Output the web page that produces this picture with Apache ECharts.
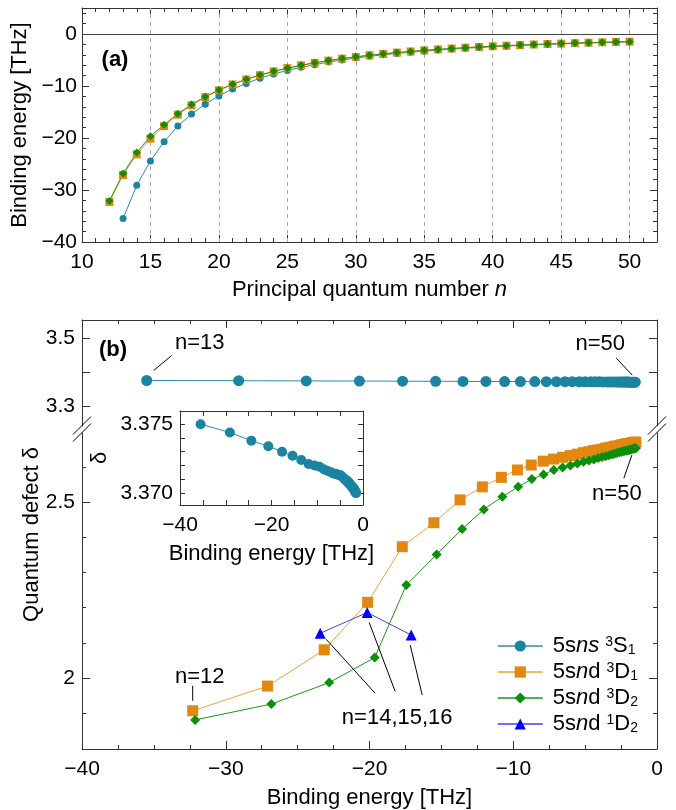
<!DOCTYPE html>
<html><head><meta charset="utf-8">
<script src="https://cdn.jsdelivr.net/npm/echarts@6/dist/echarts.min.js"></script>
<style>html,body{margin:0;padding:0;background:#fff}#c{width:676px;height:810px}</style>
</head><body><div id="c"></div>
<script>
// ================= DATA =================
const N_S  = '5sns \u00b3S\u2081';
const N_D1 = '5snd \u00b3D\u2081';
const N_D2 = '5snd \u00b3D\u2082';
const N_T  = '5snd \u00b9D\u2082';

// principal quantum numbers
const nS = [13,14,15,16,17,18,19,20,21,22,23,24,25,26,27,28,29,30,31,32,33,34,35,36,37,38,39,40,41,42,43,44,45,46,47,48,49,50];
const nD = [12,13,14,15,16,17,18,19,20,21,22,23,24,25,26,27,28,29,30,31,32,33,34,35,36,37,38,39,40,41,42,43,44,45,46,47,48,49,50];
const nT = [14,15,16];

// binding energies [THz]
const eS  = [-35.5,-29.1,-24.4,-20.7,-17.7,-15.4,-13.5,-11.9,-10.6,-9.5,-8.5,-7.7,-7.0,-6.4,-5.9,-5.4,-5.0,-4.6,-4.3,-4.0,-3.75,-3.5,-3.3,-3.1,-2.9,-2.74,-2.59,-2.45,-2.32,-2.20,-2.09,-1.99,-1.90,-1.81,-1.73,-1.65,-1.58,-1.51];
const eD1 = [-32.3,-27.1,-23.15,-20.13,-17.72,-15.52,-13.70,-12.15,-10.83,-9.71,-8.75,-7.92,-7.20,-6.57,-6.03,-5.54,-5.12,-4.74,-4.40,-4.09,-3.82,-3.57,-3.35,-3.14,-2.96,-2.79,-2.63,-2.49,-2.36,-2.24,-2.13,-2.02,-1.93,-1.84,-1.75,-1.67,-1.60,-1.53,-1.47];
const eD2 = [-32.13,-26.83,-22.80,-19.64,-17.44,-15.33,-13.56,-12.05,-10.76,-9.66,-8.71,-7.89,-7.18,-6.57,-6.02,-5.54,-5.11,-4.73,-4.39,-4.09,-3.82,-3.57,-3.35,-3.14,-2.96,-2.79,-2.63,-2.49,-2.36,-2.24,-2.13,-2.02,-1.92,-1.83,-1.75,-1.67,-1.60,-1.53,-1.47];
const eT  = [-23.43,-20.16,-17.1];

// quantum defects
const dS  = [3.3750,3.3744,3.3738,3.3734,3.3730,3.3727,3.3724,3.3721,3.3720,3.3719,3.3717,3.3716,3.3715,3.3714,3.3714,3.3713,3.3713,3.3712,3.3711,3.3710,3.3709,3.3709,3.3708,3.3707,3.3707,3.3706,3.3705,3.3705,3.3704,3.3704,3.3703,3.3703,3.3702,3.3702,3.3701,3.3701,3.3700,3.3700];
const dD1 = [1.907,1.977,2.080,2.215,2.373,2.441,2.506,2.543,2.570,2.591,2.605,2.616,2.622,2.627,2.632,2.636,2.640,2.643,2.646,2.648,2.650,2.653,2.654,2.656,2.658,2.659,2.660,2.662,2.663,2.664,2.665,2.666,2.666,2.667,2.668,2.669,2.669,2.670,2.670];
const dD2 = [1.881,1.926,1.987,2.058,2.264,2.351,2.423,2.479,2.515,2.543,2.565,2.578,2.591,2.598,2.604,2.609,2.614,2.618,2.621,2.625,2.628,2.630,2.633,2.635,2.637,2.639,2.641,2.642,2.644,2.645,2.646,2.647,2.648,2.649,2.650,2.651,2.652,2.653,2.653];
const dT  = [2.127,2.186,2.122];

// tick values / labels
const XA_MAJOR = [10,15,20,25,30,35,40,45,50];
const XA_MINOR = [11,12,13,14,16,17,18,19,21,22,23,24,26,27,28,29,31,32,33,34,36,37,38,39,41,42,43,44,46,47,48,49,51];
const YA_MAJOR = [-40,-30,-20,-10,0];
const YA_MINOR = [-38,-36,-34,-32,-28,-26,-24,-22,-18,-16,-14,-12,-8,-6,-4,-2,2,4];
const XA_GRID  = [15,20,25,30,35,40,45,50];
const XB_MAJOR = [-40,-30,-20,-10,0];
const XB_MINOR = [-37.5,-35,-32.5,-27.5,-25,-22.5,-17.5,-15,-12.5,-7.5,-5,-2.5];
const YU_TICKS = [3.3,3.4,3.5];
const YU_LABELS = [3.3,3.5];
const YL_MAJOR = [2,2.5];
const YL_MINOR = [1.9,2.1,2.2,2.3,2.4,2.6];
const XI_TICKS = [-40,-35,-30,-25,-20,-15,-10,-5,0];
const XI_LABELS = [-40,-20,0];
const YI_TICKS = [3.370,3.371,3.372,3.373,3.374,3.375];
const YI_LABELS = [3.370,3.375];

// ================= STYLE / LAYOUT =================
const FONT = "'Liberation Sans', Arial, Helvetica, sans-serif";
const LC = '#333';
const C_S = '#1b84a1', C_S_L = '#2b8fab';
const C_D1 = '#e2870f', C_D1_L = '#eea23c';
const C_D2 = '#0c8f0c', C_D2_L = '#1a961a';
const C_T = '#0000ff', C_T_L = '#4040ff';

const GA = {left:82, top:8, width:575, height:234};
const GU = {left:82, top:320, width:575, height:106};
const GL = {left:82, top:433, width:575, height:316};
const GI = {left:180, top:411, width:183, height:94};

const XA_MIN = 10, XA_MAX = 52, YA_MIN = -40, YA_MAX = 5;
const XB_MIN = -40, XB_MAX = 0;
const YU_MIN = 3.2412, YU_MAX = 3.5529;
const YL_MIN = 1.7983, YL_MAX = 2.6960;
const YI_MIN = 3.36912, YI_MAX = 3.37596;

const minus = v => (v < 0 ? '\u2212' + Math.abs(v) : String(v));
const fmt3 = v => v.toFixed(3);

const nameStyle = {fontSize:22, fontFamily:FONT, color:'#000',
  rich:{i:{fontSize:22, fontFamily:FONT, color:'#000', fontStyle:'italic'}}};

const xAxes = [], yAxes = [];
function mkAxis(list, o) {
  const a = {
    type:'value', gridIndex:o.grid, min:o.min, max:o.max, position:o.pos,
    axisLine:{show:o.line !== false, onZero:false, lineStyle:{color:LC, width:1}},
    axisTick:{show:!!(o.ticks && o.ticks.length), inside:true, length:o.len || 5,
      customValues:o.ticks || [], lineStyle:{color:LC, width:1}},
    axisLabel: o.labels ? {show:true, customValues:o.labels, formatter:o.fmt, color:'#000',
      fontSize:21, fontFamily:FONT, margin:o.margin} : {show:false},
    splitLine:{show:false}, minorTick:{show:false}, minorSplitLine:{show:false},
    axisPointer:{show:false}, silent:true
  };
  if (o.name) {
    a.name = o.name; a.nameLocation = 'middle'; a.nameGap = o.nameGap;
    a.nameTextStyle = nameStyle;
  }
  list.push(a);
  return list.length - 1;
}

// ---- panel (a)
const xA = mkAxis(xAxes,{grid:0,min:XA_MIN,max:XA_MAX,pos:'bottom',ticks:XA_MAJOR,len:7,labels:XA_MAJOR,fmt:minus,margin:10,name:'Principal quantum number {i|n}',nameGap:37});
mkAxis(xAxes,{grid:0,min:XA_MIN,max:XA_MAX,pos:'bottom',ticks:XA_MINOR,len:4,line:false});
mkAxis(xAxes,{grid:0,min:XA_MIN,max:XA_MAX,pos:'top',ticks:XA_MAJOR,len:7});
mkAxis(xAxes,{grid:0,min:XA_MIN,max:XA_MAX,pos:'top',ticks:XA_MINOR,len:4,line:false});
const yA = mkAxis(yAxes,{grid:0,min:YA_MIN,max:YA_MAX,pos:'left',ticks:YA_MAJOR,len:7,labels:YA_MAJOR,fmt:minus,margin:5,name:'Binding energy [THz]',nameGap:38});
mkAxis(yAxes,{grid:0,min:YA_MIN,max:YA_MAX,pos:'left',ticks:YA_MINOR,len:4,line:false});
mkAxis(yAxes,{grid:0,min:YA_MIN,max:YA_MAX,pos:'right',ticks:YA_MAJOR,len:7});
mkAxis(yAxes,{grid:0,min:YA_MIN,max:YA_MAX,pos:'right',ticks:YA_MINOR,len:4,line:false});

// ---- panel (b) upper segment
const xU = mkAxis(xAxes,{grid:1,min:XB_MIN,max:XB_MAX,pos:'top',ticks:XB_MAJOR,len:8});
mkAxis(xAxes,{grid:1,min:XB_MIN,max:XB_MAX,pos:'top',ticks:XB_MINOR,len:4,line:false});
const yU = mkAxis(yAxes,{grid:1,min:YU_MIN,max:YU_MAX,pos:'left',ticks:YU_TICKS,len:8,labels:YU_LABELS,fmt:minus,margin:7});
mkAxis(yAxes,{grid:1,min:YU_MIN,max:YU_MAX,pos:'right',ticks:YU_TICKS,len:8});

// ---- panel (b) lower segment
const xL = mkAxis(xAxes,{grid:2,min:XB_MIN,max:XB_MAX,pos:'bottom',ticks:XB_MAJOR,len:8,labels:XB_MAJOR,fmt:minus,margin:10,name:'Binding energy [THz]',nameGap:38});
mkAxis(xAxes,{grid:2,min:XB_MIN,max:XB_MAX,pos:'bottom',ticks:XB_MINOR,len:4,line:false});
const yL = mkAxis(yAxes,{grid:2,min:YL_MIN,max:YL_MAX,pos:'left',ticks:YL_MAJOR,len:8,labels:YL_MAJOR,fmt:minus,margin:7});
mkAxis(yAxes,{grid:2,min:YL_MIN,max:YL_MAX,pos:'left',ticks:YL_MINOR,len:4,line:false});
mkAxis(yAxes,{grid:2,min:YL_MIN,max:YL_MAX,pos:'right',ticks:YL_MAJOR,len:8});
mkAxis(yAxes,{grid:2,min:YL_MIN,max:YL_MAX,pos:'right',ticks:YL_MINOR,len:4,line:false});

// ---- inset
const xI = mkAxis(xAxes,{grid:3,min:XB_MIN,max:XB_MAX,pos:'bottom',ticks:XI_TICKS,len:5,labels:XI_LABELS,fmt:minus,margin:10,name:'Binding energy [THz]',nameGap:38});
mkAxis(xAxes,{grid:3,min:XB_MIN,max:XB_MAX,pos:'top',ticks:XI_TICKS,len:5});
const yI = mkAxis(yAxes,{grid:3,min:YI_MIN,max:YI_MAX,pos:'left',ticks:YI_TICKS,len:5,labels:YI_LABELS,fmt:fmt3,margin:7,name:'\u03b4',nameGap:69});
mkAxis(yAxes,{grid:3,min:YI_MIN,max:YI_MAX,pos:'right',ticks:YI_TICKS,len:5});

// ================= SERIES =================
const zip = (a, b) => a.map((v, i) => [v, b[i]]);
function ser(name, xi, yi, data, sym, size, col, lcol, extra) {
  return Object.assign({
    type:'line', name, xAxisIndex:xi, yAxisIndex:yi, data,
    symbol:sym, symbolSize:size, showSymbol:true, showAllSymbol:true,
    itemStyle:{color:col}, lineStyle:{color:lcol, width:1},
    clip:false, silent:true, animation:false, z:3
  }, extra || {});
}

const series = [
  ser(N_S,  xU, yU, zip(eS, dS),   'circle',  11, C_S,  C_S_L),   // 0
  ser(N_D1, xL, yL, zip(eD1, dD1), 'rect',    11, C_D1, C_D1_L),  // 1
  ser(N_D2, xL, yL, zip(eD2, dD2), 'diamond', 10, C_D2, C_D2_L),  // 2
  ser(N_T,  xL, yL, zip(eT, dT),   'triangle',11, C_T,  C_T_L),   // 3
  // panel (a) grid lines
  {type:'line', name:'grid', xAxisIndex:xA, yAxisIndex:yA, data:[[30,0]], showSymbol:false,
   lineStyle:{width:0}, silent:true, z:1,
   markLine:{silent:true, symbol:['none','none'], label:{show:false}, animation:false, z:1,
     lineStyle:{color:'#aaaaaa', type:[4,4], width:1},
     data:[{yAxis:0, lineStyle:{color:'#444', type:'solid', width:1}}].concat(XA_GRID.map(v => ({xAxis:v})))}},
  ser(N_S,  xA, yA, zip(nS, eS),  'circle',  7, C_S,  C_S_L),
  ser(N_D1, xA, yA, zip(nD, eD1), 'rect',    8, C_D1, C_D1_L),
  ser(N_D2, xA, yA, zip(nD, eD2), 'diamond', 8, C_D2, C_D2_L),
  ser('inset', xI, yI, zip(eS, dS), 'circle', 10, C_S, C_S_L)
];

const LEG = {};
LEG[N_S]  = '{m|5s}{i|ns}{m| }{sup|3}{m|S}{sub|1}';
LEG[N_D1] = '{m|5s}{i|n}{m|d }{sup|3}{m|D}{sub|1}';
LEG[N_D2] = '{m|5s}{i|n}{m|d }{sup|3}{m|D}{sub|2}';
LEG[N_T]  = '{m|5s}{i|n}{m|d }{sup|1}{m|D}{sub|2}';

const option = {
  animation:false,
  backgroundColor:'#ffffff',
  grid:[GA, GU, GL, GI].map(g => Object.assign({show:false, containLabel:false, outerBoundsMode:'none'}, g)),
  xAxis:xAxes, yAxis:yAxes,
  legend:{
    data:[N_S, N_D1, N_D2, N_T], orient:'vertical', left:497, top:631, padding:0,
    itemWidth:45, itemHeight:14, itemGap:0, selectedMode:false,
    lineStyle:{width:1.5},
    formatter: name => LEG[name],
    textStyle:{padding:[0,0,0,5], fontFamily:FONT, fontSize:22, color:'#000', rich:{
      m:{fontSize:22, fontFamily:FONT, color:'#000', lineHeight:22, verticalAlign:'top'},
      i:{fontSize:22, fontFamily:FONT, color:'#000', fontStyle:'italic', lineHeight:22, verticalAlign:'top'},
      sup:{fontSize:14, fontFamily:FONT, color:'#000', lineHeight:14, verticalAlign:'top'},
      sub:{fontSize:14, fontFamily:FONT, color:'#000', lineHeight:14, padding:[12,0,0,0], verticalAlign:'bottom'}
    }}
  },
  series
};

const chart = echarts.init(document.getElementById('c'), null, {renderer:'canvas', width:676, height:810});
chart.setOption(option);

// ================= ANNOTATIONS =================
const P = (si, x, y) => chart.convertToPixel({seriesIndex:si}, [x, y]);
const txtStyle = (t, bold) => ({text:t, fill:'#000', font:(bold ? 'bold ' : '') + '22px ' + FONT,
  align:'center', verticalAlign:'middle', textAlign:'center', textVerticalAlign:'middle'});
const T = (x, y, t, bold, rot) => ({type:'text', x, y, rotation:rot || 0, silent:true, z:100, style:txtStyle(t, bold)});
const L = (x1, y1, x2, y2) => ({type:'line', silent:true, z:100, shape:{x1, y1, x2, y2}, style:{stroke:'#000', lineWidth:1}});

const g = [];
g.push(T(GA.left + 33, GA.top + 52, '(a)', true));
g.push(T(GU.left + 31, GU.top + 30, '(b)', true));
g.push(T(GU.left - 50, (GU.top + GL.top + GL.height) / 2, 'Quantum defect \u03b4', false, Math.PI / 2));

// axis-break marks
const brkY = (GU.top + GU.height + GL.top) / 2;
[GU.left, GU.left + GU.width].forEach(ax => {
  g.push(L(ax - 9, brkY + 5, ax + 9, brkY - 13));
  g.push(L(ax - 9, brkY + 12, ax + 9, brkY - 6));
});

// n=13
let p = P(0, eS[0], dS[0]);
g.push(L(p[0] + 7, p[1] - 10, p[0] + 25, p[1] - 25));
g.push(T(p[0] + 53, p[1] - 38, 'n=13'));
// n=50 upper
p = P(0, eS[eS.length - 1], dS[dS.length - 1]);
g.push(L(p[0] - 19, p[1] - 24, p[0] - 3, p[1] - 7));
g.push(T(p[0] - 35, p[1] - 38, 'n=50'));
// n=50 lower
p = P(2, eD2[eD2.length - 1], dD2[dD2.length - 1]);
g.push(L(p[0] - 4, p[1] + 7, p[0] - 12, p[1] + 30));
g.push(T(p[0] - 19, p[1] + 46, 'n=50'));
// n=12
p = P(1, eD1[0], dD1[0]);
g.push(L(p[0], p[1] - 10, p[0], p[1] - 25));
g.push(T(p[0] + 7, p[1] - 34, 'n=12'));
// n=14,15,16
const p14 = P(3, eT[0], dT[0]), p15 = P(3, eT[1], dT[1]), p16 = P(3, eT[2], dT[2]);
g.push(L(p14[0] + 6, p14[1] + 6, p14[0] + 55, p14[1] + 60));
g.push(L(p15[0] + 2, p15[1] + 10, p15[0] + 28, p15[1] + 79));
g.push(L(p16[0] - 1, p16[1] + 10, p16[0] + 11, p16[1] + 60));
g.push(T(p15[0] + 30, p15[1] + 105, 'n=14,15,16'));

chart.setOption({graphic:{elements:g}});
</script>
</body></html>
